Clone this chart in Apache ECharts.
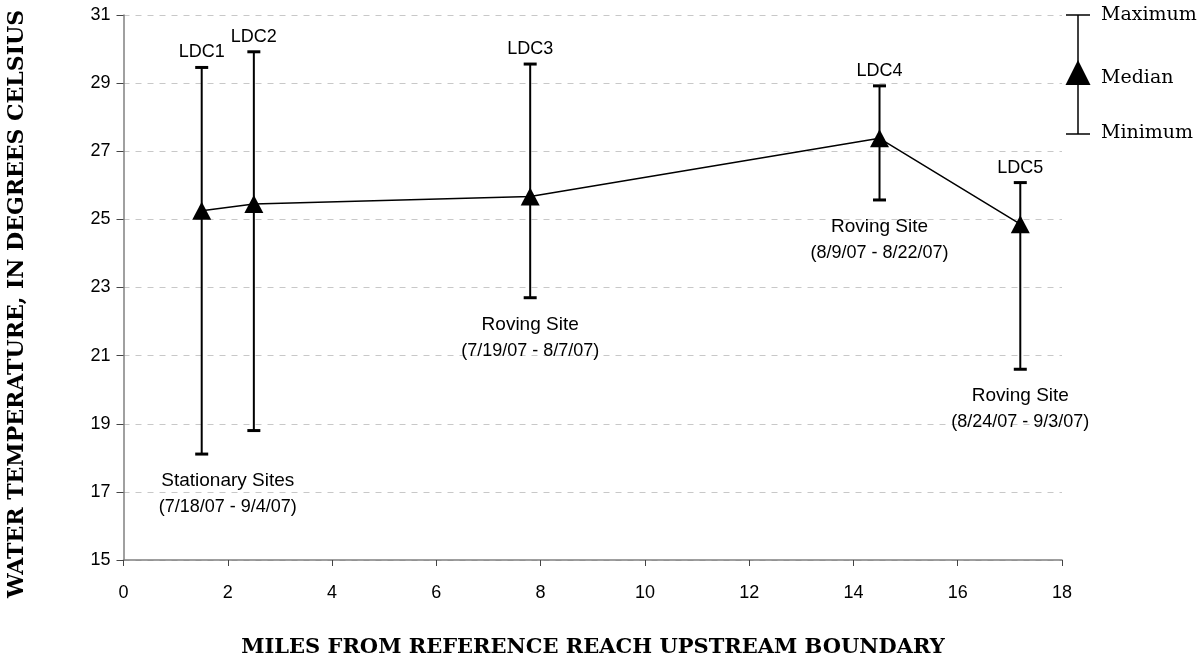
<!DOCTYPE html>
<html><head><meta charset="utf-8">
<script src="https://cdn.jsdelivr.net/npm/echarts@6/dist/echarts.min.js"></script>
<style>html,body{margin:0;padding:0;background:#fff}#c{width:1202px;height:664px}</style>
</head><body><div id="c"></div>
<script>
const siteNames = ['LDC1', 'LDC2', 'LDC3', 'LDC4', 'LDC5'];
const miles = [1.5, 2.5, 7.8, 14.5, 17.2];
const maxTemp = [29.46, 29.92, 29.56, 28.92, 26.08];
const medianTemp = [25.25, 25.45, 25.67, 27.38, 24.86];
const minTemp = [18.11, 18.80, 22.70, 25.57, 20.60];
const siteGroups = [[0, 1], [2], [3], [4]];
const groupLine1 = ['Stationary Sites', 'Roving Site', 'Roving Site', 'Roving Site'];
const groupLine2 = ['(7/18/07 - 9/4/07)', '(7/19/07 - 8/7/07)', '(8/9/07 - 8/22/07)', '(8/24/07 - 9/3/07)'];
const xAxisTicks = { min: 0, max: 18, interval: 2 };
const yAxisTicks = { min: 15, max: 31, interval: 2 };
const xTitle = 'MILES FROM REFERENCE REACH UPSTREAM BOUNDARY';
const yTitle = 'WATER TEMPERATURE, IN DEGREES CELSIUS';
const legendLabels = ['Maximum', 'Median', 'Minimum'];

const SANS = 'Liberation Sans, Arial, sans-serif';
const SERIF = 'DejaVu Serif, serif';

const barData = miles.map((m, i) => [m, minTemp[i], maxTemp[i], siteNames[i]]);
const groupData = siteGroups.map((g, k) => {
  const x = g.reduce((s, i) => s + miles[i], 0) / g.length;
  const y = Math.min(...g.map(i => minTemp[i]));
  return [x, y, groupLine1[k], groupLine2[k]];
});

const chart = echarts.init(document.getElementById('c'), null, { renderer: 'canvas' });
chart.setOption({
  animation: false,
  backgroundColor: '#fff',
  grid: { left: 123.5, right: 140, top: 15, bottom: 104, containLabel: false },
  xAxis: {
    type: 'value', min: xAxisTicks.min, max: xAxisTicks.max, interval: xAxisTicks.interval,
    axisLine: { show: true, onZero: false, lineStyle: { color: '#808080', width: 1.5 } },
    axisTick: { show: true, length: 6, lineStyle: { color: '#444', width: 1 } },
    axisLabel: { color: '#000', fontFamily: SANS, fontSize: 18, margin: 24 },
    splitLine: { show: false }
  },
  yAxis: {
    type: 'value', min: yAxisTicks.min, max: yAxisTicks.max, interval: yAxisTicks.interval,
    axisLine: { show: true, lineStyle: { color: '#808080', width: 1.5 } },
    axisTick: { show: true, length: 7, lineStyle: { color: '#444', width: 1 } },
    axisLabel: { color: '#000', fontFamily: SANS, fontSize: 18, margin: 13 },
    splitLine: { show: true, lineStyle: { color: '#c8c8c8', type: [6, 6], width: 1 } }
  },
  graphic: [
    { type: 'text', style: { text: xTitle, x: 593, y: 648, align: 'center', verticalAlign: 'middle', font: 'bold 21px ' + SERIF, fill: '#000' } },
    { type: 'text', x: 17, y: 304, rotation: Math.PI / 2, style: { text: yTitle, x: 0, y: 0, align: 'center', verticalAlign: 'middle', font: 'bold 22px ' + SERIF, fill: '#000' } },
    { type: 'group', x: 1078, y: 0, children: [
      { type: 'line', shape: { x1: 0, y1: 15, x2: 0, y2: 134 }, style: { stroke: '#000', lineWidth: 1.5 } },
      { type: 'line', shape: { x1: -12, y1: 15, x2: 12, y2: 15 }, style: { stroke: '#000', lineWidth: 1.5 } },
      { type: 'line', shape: { x1: -12, y1: 134, x2: 12, y2: 134 }, style: { stroke: '#000', lineWidth: 1.5 } },
      { type: 'polygon', shape: { points: [[0, 60], [12.5, 85], [-12.5, 85]] }, style: { fill: '#000' } },
      { type: 'text', style: { text: legendLabels[0], x: 23, y: 15, verticalAlign: 'middle', font: '19px ' + SERIF, fill: '#000' } },
      { type: 'text', style: { text: legendLabels[1], x: 23, y: 78, verticalAlign: 'middle', font: '19px ' + SERIF, fill: '#000' } },
      { type: 'text', style: { text: legendLabels[2], x: 23, y: 133, verticalAlign: 'middle', font: '19px ' + SERIF, fill: '#000' } }
    ] }
  ],
  series: [
    {
      type: 'custom', name: 'range', data: barData, z: 2,
      renderItem: function (params, api) {
        const x = api.value(0);
        const lo = api.coord([x, api.value(1)]);
        const hi = api.coord([x, api.value(2)]);
        const name = siteNames[params.dataIndex];
        return { type: 'group', children: [
          { type: 'line', shape: { x1: lo[0], y1: lo[1], x2: hi[0], y2: hi[1] }, style: { stroke: '#000', lineWidth: 2 } },
          { type: 'rect', shape: { x: hi[0] - 6.5, y: hi[1] - 1.5, width: 13, height: 3 }, style: { fill: '#000' } },
          { type: 'rect', shape: { x: lo[0] - 6.5, y: lo[1] - 1.5, width: 13, height: 3 }, style: { fill: '#000' } },
          { type: 'text', style: { text: name, x: hi[0], y: hi[1] - 6, align: 'center', verticalAlign: 'bottom', font: '18px ' + SANS, fill: '#000' } }
        ] };
      }
    },
    {
      type: 'custom', name: 'groups', data: groupData, z: 2,
      renderItem: function (params, api) {
        const p = api.coord([api.value(0), api.value(1)]);
        const d = groupData[params.dataIndex];
        return { type: 'group', children: [
          { type: 'text', style: { text: d[2], x: p[0], y: p[1] + 27, align: 'center', verticalAlign: 'middle', font: '19px ' + SANS, fill: '#000' } },
          { type: 'text', style: { text: d[3], x: p[0], y: p[1] + 53, align: 'center', verticalAlign: 'middle', font: '18px ' + SANS, fill: '#000' } }
        ] };
      }
    },
    {
      type: 'line', name: 'Median', data: miles.map((m, i) => [m, medianTemp[i]]), z: 3,
      symbol: 'triangle', symbolSize: [19, 18], showAllSymbol: true,
      itemStyle: { color: '#000' },
      lineStyle: { color: '#000', width: 1.5 }
    }
  ]
});
</script></body></html>
